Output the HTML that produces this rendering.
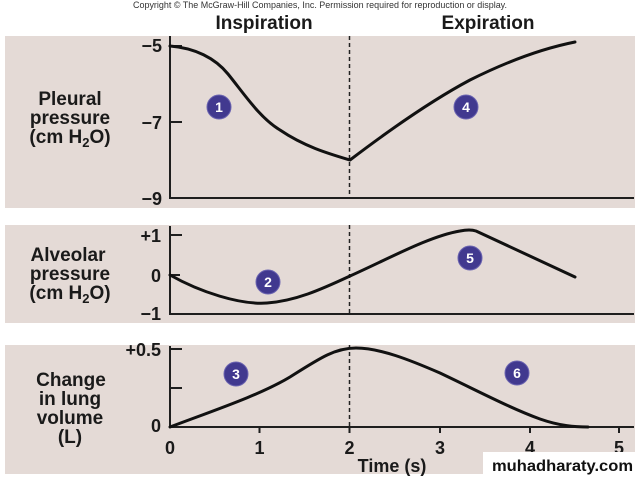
<!DOCTYPE html>
<html><head><meta charset="utf-8"><style>
html,body{margin:0;padding:0;background:#fff;}
svg{display:block;}
text{font-family:"Liberation Sans",Arial,sans-serif;}
.t{font-weight:bold;font-size:18px;fill:#1a1a1a;}
.y{font-weight:bold;font-size:19px;fill:#1a1a1a;text-anchor:middle;}
.c{fill:#41398f;stroke:#6a63b0;stroke-width:1;}
.cn{font-weight:bold;font-size:14px;fill:#fff;text-anchor:middle;}
.ax{stroke:#1e1e1e;stroke-width:2;fill:none;}
.cv{stroke:#111;stroke-width:3;fill:none;stroke-linecap:round;stroke-linejoin:round;}
.ds{stroke:#222;stroke-width:1.5;stroke-dasharray:4 3;}
</style></head><body>
<svg width="640" height="480" viewBox="0 0 640 480" xmlns="http://www.w3.org/2000/svg">
<rect width="640" height="480" fill="#fff"/>
<text x="133" y="8" font-size="9" fill="#333" textLength="374" lengthAdjust="spacingAndGlyphs">Copyright © The McGraw-Hill Companies, Inc. Permission required for reproduction or display.</text>
<text x="264" y="29" font-size="19" font-weight="bold" fill="#1a1a1a" text-anchor="middle">Inspiration</text>
<text x="488" y="29" font-size="19" font-weight="bold" fill="#1a1a1a" text-anchor="middle">Expiration</text>

<!-- backgrounds -->
<rect x="5" y="36" width="630" height="172" fill="#e4dad6"/>
<rect x="5" y="225" width="630" height="98" fill="#e4dad6"/>
<rect x="5" y="345" width="630" height="129" fill="#e4dad6"/>

<!-- Panel 1 -->
<text class="y" x="70" y="105">Pleural</text>
<text class="y" x="70" y="124">pressure</text>
<text class="y" x="70" y="143">(cm H<tspan font-size="13" dy="4">2</tspan><tspan dy="-4">O)</tspan></text>
<text class="t" x="162" y="52" text-anchor="end">−5</text>
<text class="t" x="162" y="129" text-anchor="end">−7</text>
<text class="t" x="162" y="205" text-anchor="end">−9</text>
<line class="ds" x1="349.5" y1="36" x2="349.5" y2="198"/>
<path class="ax" d="M170,36 V198 H634 M170,46 H182 M170,122 H182"/>
<path class="cv" d="M170,46 C195,48 215,58 228,74 C245,95 260,118 280,130 C305,147 330,154 350,160 C400,122 440,96 470,80 C510,60 545,48 575,42"/>
<circle class="c" cx="219" cy="107" r="12"/><text class="cn" x="219" y="112">1</text>
<circle class="c" cx="466" cy="107" r="12"/><text class="cn" x="466" y="112">4</text>

<!-- Panel 2 -->
<text class="y" x="68" y="261">Alveolar</text>
<text class="y" x="70" y="280">pressure</text>
<text class="y" x="70" y="299">(cm H<tspan font-size="13" dy="4">2</tspan><tspan dy="-4">O)</tspan></text>
<text class="t" x="161" y="242" text-anchor="end">+1</text>
<text class="t" x="161" y="282" text-anchor="end">0</text>
<text class="t" x="161" y="320" text-anchor="end">−1</text>
<line class="ds" x1="349.5" y1="225" x2="349.5" y2="314"/>
<path class="ax" d="M170,226 V314 H634 M170,235 H182 M170,275 H180"/>
<path class="cv" d="M170,275 C200,292 240,305 267,303 C295,301 320,290 350,276 C390,258 430,236 460,231 Q470,229 476,231 L575,277"/>
<circle class="c" cx="268" cy="282" r="12"/><text class="cn" x="268" y="287">2</text>
<circle class="c" cx="470" cy="258" r="12"/><text class="cn" x="470" y="263">5</text>

<!-- Panel 3 -->
<text class="y" x="71" y="386">Change</text>
<text class="y" x="70" y="405">in lung</text>
<text class="y" x="70" y="424">volume</text>
<text class="y" x="70" y="443">(L)</text>
<text class="t" x="161" y="356" text-anchor="end">+0.5</text>
<text class="t" x="161" y="432" text-anchor="end">0</text>
<line class="ds" x1="349.5" y1="345" x2="349.5" y2="427"/>
<path class="ax" d="M170,346 V427 H634 M170,349 H182 M170,388 H182 M259.5,427 V433 M349.5,427 V433 M440,427 V433 M530,427 V433 M619,427 V433"/>
<path class="cv" d="M170,427 C215,410 260,395 290,377 C320,358 335,348 356,348 C380,348 410,360 440,373 C480,392 510,408 540,419 C560,426 575,427 588,427"/>
<circle class="c" cx="236" cy="374" r="12"/><text class="cn" x="236" y="379">3</text>
<circle class="c" cx="517" cy="373" r="12"/><text class="cn" x="517" y="378">6</text>
<g font-size="18" font-weight="bold" fill="#1a1a1a" text-anchor="middle">
<text x="170" y="454">0</text><text x="259.5" y="454">1</text><text x="349.5" y="454">2</text>
<text x="440" y="454">3</text><text x="530" y="454">4</text><text x="619" y="454">5</text>
</g>
<text x="392" y="472" font-size="18" font-weight="bold" fill="#1a1a1a" text-anchor="middle">Time (s)</text>

<!-- watermark -->
<rect x="483" y="452" width="157" height="28" fill="#fff"/>
<text x="492" y="471" font-family="'DejaVu Sans Mono','Liberation Mono',monospace" font-size="16" font-weight="bold" fill="#111" textLength="141" lengthAdjust="spacingAndGlyphs">muhadharaty.com</text>
</svg>
</body></html>
